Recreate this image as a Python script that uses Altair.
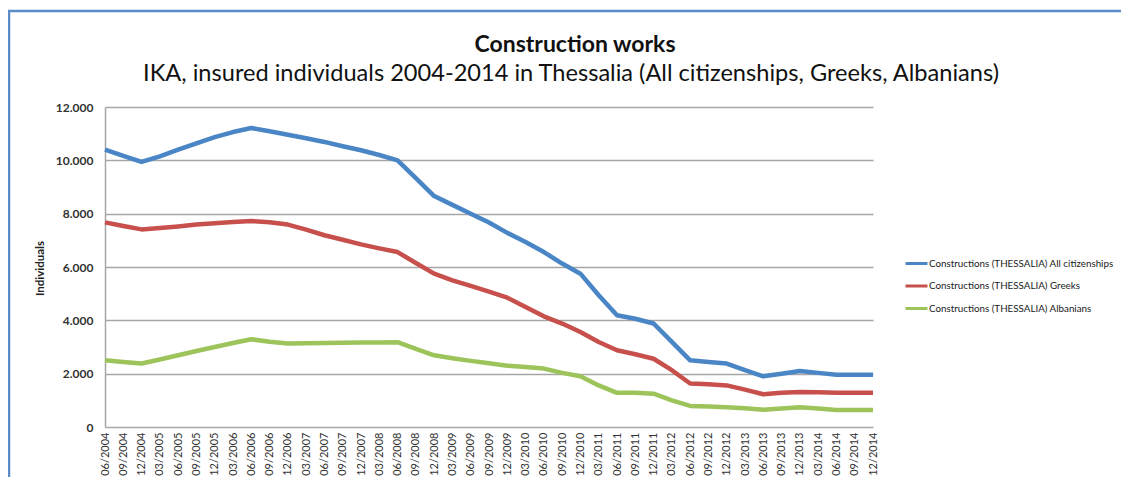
import altair as alt
import pandas as pd

quarters = ["06/2004", "09/2004", "12/2004"] + [
    f"{m}/{y}" for y in range(2005, 2015) for m in ["03", "06", "09", "12"]
]

all_citizenships = [10400, 10170, 9940, 10150, 10400, 10640, 10870, 11060, 11210,
                    11090, 10960, 10830, 10690, 10530, 10380, 10200, 10000, 9330,
                    8660, 8330, 8000, 7670, 7280, 6940, 6560, 6130, 5750, 4940,
                    4190, 4060, 3880, 3190, 2500, 2440, 2380, 2130, 1900, 2000,
                    2100, 2030, 1960, 1960, 1960]
greeks = [7675, 7540, 7410, 7460, 7520, 7590, 7640, 7690, 7725, 7680, 7590, 7400,
          7190, 7020, 6850, 6700, 6560, 6150, 5750, 5500, 5290, 5080, 4850, 4500,
          4150, 3880, 3560, 3190, 2880, 2730, 2560, 2130, 1630, 1600, 1560, 1400,
          1230, 1280, 1310, 1300, 1280, 1280, 1280]
albanians = [2500, 2440, 2380, 2530, 2690, 2850, 3000, 3150, 3290, 3200, 3130, 3140,
             3150, 3160, 3170, 3170, 3180, 2930, 2690, 2580, 2480, 2390, 2300, 2250,
             2190, 2030, 1900, 1560, 1280, 1280, 1250, 1000, 790, 770, 740, 700,
             650, 690, 740, 690, 640, 640, 640]

series_names = [
    "Constructions (THESSALIA) All citizenships",
    "Constructions (THESSALIA) Greeks",
    "Constructions (THESSALIA) Albanians",
]
series_colors = ["#4A86C5", "#C8504C", "#9DC45A"]

title_text = "Construction works"
subtitle_text = "IKA, insured individuals 2004-2014 in Thessalia (All citizenships, Greeks, Albanians)"

rows = []
for name, vals in zip(series_names, [all_citizenships, greeks, albanians]):
    for q, v in zip(quarters, vals):
        rows.append({"quarter": q, "value": v, "series": name})
df = pd.DataFrame(rows)
titles_df = pd.DataFrame({"title": [title_text], "subtitle": [subtitle_text]})

FONT = "Lato"

lines = alt.Chart(df).mark_line(strokeWidth=4.5, strokeJoin="round").encode(
    x=alt.X("quarter:N", sort=quarters,
            scale=alt.Scale(type="point", padding=0),
            axis=alt.Axis(title=None, labelAngle=270, labelFontSize=11,
                          labelColor="#333333", labelPadding=5, ticks=False,
                          domain=False, grid=False, labelFont=FONT,
                          labelOverlap=False)),
    y=alt.Y("value:Q", scale=alt.Scale(domain=[0, 12000], nice=False),
            axis=alt.Axis(title="Individuals", values=[0, 2000, 4000, 6000, 8000, 10000, 12000],
                          labelExpr="replace(format(datum.value, ','), ',', '.')",
                          labelFontSize=12, labelFontWeight="bold", labelColor="#333333",
                          labelPadding=12, ticks=False, domain=True, domainColor="#A6A6A6",
                          domainWidth=1.5, gridColor="#A6A6A6", gridWidth=1.5,
                          titleFontSize=11.5, titleFontWeight="bold", titleColor="#222222",
                          titleX=-65, titleY=161, titleAlign="center", titleBaseline="middle",
                          titleAngle=270, labelFont=FONT, titleFont=FONT)),
    color=alt.Color("series:N", sort=series_names,
                    scale=alt.Scale(domain=series_names, range=series_colors),
                    legend=alt.Legend(title=None, orient="none", legendX=799, legendY=144,
                                      symbolType="stroke", symbolStrokeWidth=3,
                                      symbolSize=484, labelFontSize=9.8, labelLimit=0,
                                      labelOffset=0, rowPadding=3.5, labelColor="#1a1a1a",
                                      labelFont=FONT)),
)

title_mark = alt.Chart(titles_df).mark_text(
    font=FONT, fontSize=23, fontWeight="bold", color="#111111", align="center",
    baseline="alphabetic"
).encode(text="title:N", x=alt.value(470), y=alt.value(-55))

subtitle_mark = alt.Chart(titles_df).mark_text(
    font=FONT, fontSize=23.6, color="#111111", align="center", baseline="alphabetic"
).encode(text="subtitle:N", x=alt.value(466), y=alt.value(-26))

border_top = alt.Chart(titles_df).mark_rule(color="#5B8CC8", strokeWidth=2.5).encode(
    x=alt.value(-97), x2=alt.value(1040), y=alt.value(-96)
)
border_left = alt.Chart(titles_df).mark_rule(color="#5B8CC8", strokeWidth=2.5).encode(
    x=alt.value(-96), y=alt.value(-97), y2=alt.value(400)
)

chart = alt.layer(border_top, border_left, title_mark, subtitle_mark, lines).properties(
    width=768,
    height=320,
    autosize=alt.AutoSizeParams(type="none"),
    padding={"left": 97, "top": 99, "right": 248, "bottom": 50},
).configure_view(stroke=None)

chart.save("out.html", embed_options={"renderer": "svg", "actions": False})
